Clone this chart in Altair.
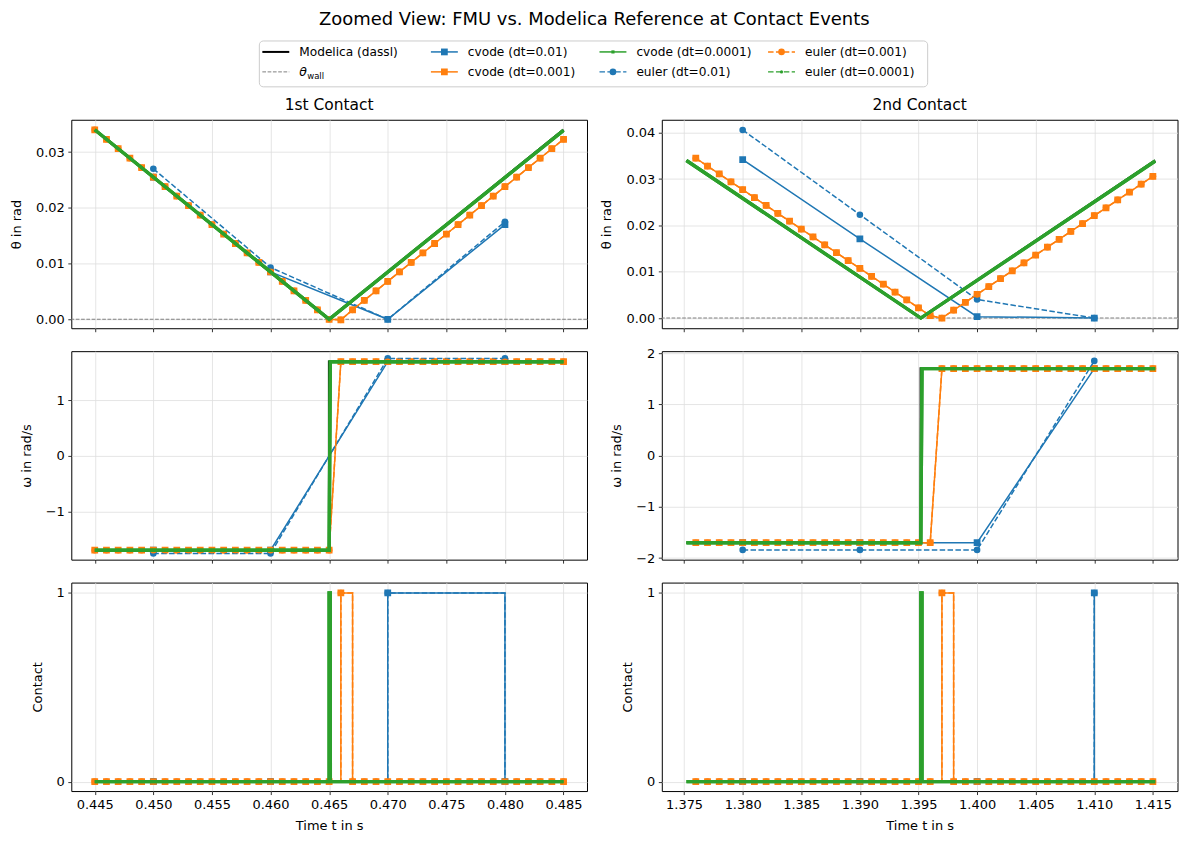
import altair as alt
import pandas as pd

FONT = "DejaVu Sans"

# ------------------------------------------------------------------ data
THETA_WALL = 0.0

# ---- 1st contact window ----
T1_REF = [0.445, 0.465, 0.485]
THETA1_REF = [0.0340, 0.0000, 0.0340]
T1_REF_W = [0.445, 0.465, 0.465, 0.485]
OMEGA1_REF = [-1.70, -1.70, 1.70, 1.70]

T1_FINE = [0.445, 0.465, 0.485]
THETA1_FINE = [0.0340, 0.0000, 0.0339]
T1_FINE_W = [0.445, 0.4650, 0.4651, 0.485]
OMEGA1_FINE = [-1.70, -1.70, 1.70, 1.70]
T1_FINE_C = [0.445, 0.4650, 0.4651, 0.485]
CONTACT1_FINE = [0, 1, 0, 0]

T1_COARSE = [0.45, 0.46, 0.47, 0.48]
THETA1_CV_COARSE = [0.0255, 0.0085, 0.0000, 0.0170]
OMEGA1_CV_COARSE = [-1.70, -1.70, 1.70, 1.70]
CONTACT1_CV_COARSE = [0, 0, 1, 0]
THETA1_EU_COARSE = [0.0270, 0.0093, 0.0000, 0.0175]
OMEGA1_EU_COARSE = [-1.76, -1.76, 1.76, 1.76]
CONTACT1_EU_COARSE = [0, 0, 1, 0]

T1_MED = [0.445, 0.446, 0.447, 0.448, 0.449, 0.450, 0.451, 0.452, 0.453, 0.454,
          0.455, 0.456, 0.457, 0.458, 0.459, 0.460, 0.461, 0.462, 0.463, 0.464,
          0.465, 0.466, 0.467, 0.468, 0.469, 0.470, 0.471, 0.472, 0.473, 0.474,
          0.475, 0.476, 0.477, 0.478, 0.479, 0.480, 0.481, 0.482, 0.483, 0.484,
          0.485]
THETA1_MED = [0.0340, 0.0323, 0.0306, 0.0289, 0.0272, 0.0255, 0.0238, 0.0221, 0.0204, 0.0187,
              0.0170, 0.0153, 0.0136, 0.0119, 0.0102, 0.0085, 0.0068, 0.0051, 0.0034, 0.0017,
              0.0000, -0.0001, 0.0017, 0.0034, 0.0051, 0.0068, 0.0085, 0.0102, 0.0119, 0.0136,
              0.0153, 0.0170, 0.0187, 0.0204, 0.0221, 0.0238, 0.0255, 0.0272, 0.0289, 0.0306,
              0.0323]
OMEGA1_MED = [-1.70, -1.70, -1.70, -1.70, -1.70, -1.70, -1.70, -1.70, -1.70, -1.70,
              -1.70, -1.70, -1.70, -1.70, -1.70, -1.70, -1.70, -1.70, -1.70, -1.70,
              -1.70, 1.70, 1.70, 1.70, 1.70, 1.70, 1.70, 1.70, 1.70, 1.70,
              1.70, 1.70, 1.70, 1.70, 1.70, 1.70, 1.70, 1.70, 1.70, 1.70,
              1.70]
CONTACT1_MED = [0, 0, 0, 0, 0, 0, 0, 0, 0, 0,
                0, 0, 0, 0, 0, 0, 0, 0, 0, 0,
                0, 1, 0, 0, 0, 0, 0, 0, 0, 0,
                0, 0, 0, 0, 0, 0, 0, 0, 0, 0,
                0]

# ---- 2nd contact window ----
T2_REF = [1.3752, 1.3952, 1.4152]
THETA2_REF = [0.0340, 0.0000, 0.0340]
T2_REF_W = [1.3752, 1.3952, 1.3952, 1.4152]
OMEGA2_REF = [-1.70, -1.70, 1.70, 1.70]

T2_FINE = [1.3752, 1.3952, 1.4152]
THETA2_FINE = [0.0340, 0.0000, 0.0339]
T2_FINE_W = [1.3752, 1.3952, 1.3953, 1.4152]
OMEGA2_FINE = [-1.70, -1.70, 1.70, 1.70]
T2_FINE_C = [1.3752, 1.3952, 1.3953, 1.4152]
CONTACT2_FINE = [0, 1, 0, 0]

T2_COARSE = [1.38, 1.39, 1.40, 1.41]
THETA2_CV_COARSE = [0.0342, 0.0171, 0.0003, 0.0000]
OMEGA2_CV_COARSE = [-1.70, -1.70, -1.70, 1.70]
CONTACT2_CV_COARSE = [0, 0, 0, 1]
THETA2_EU_COARSE = [0.0406, 0.0223, 0.0040, 0.0000]
OMEGA2_EU_COARSE = [-1.84, -1.84, -1.84, 1.85]
CONTACT2_EU_COARSE = [0, 0, 0, 1]

T2_MED = [1.376, 1.377, 1.378, 1.379, 1.380, 1.381, 1.382, 1.383, 1.384, 1.385,
          1.386, 1.387, 1.388, 1.389, 1.390, 1.391, 1.392, 1.393, 1.394, 1.395,
          1.396, 1.397, 1.398, 1.399, 1.400, 1.401, 1.402, 1.403, 1.404, 1.405,
          1.406, 1.407, 1.408, 1.409, 1.410, 1.411, 1.412, 1.413, 1.414, 1.415]
THETA2_MED = [0.0345, 0.0328, 0.0311, 0.0294, 0.0277, 0.0260, 0.0243, 0.0226, 0.0209, 0.0192,
              0.0175, 0.0158, 0.0141, 0.0124, 0.0107, 0.0090, 0.0073, 0.0056, 0.0039, 0.0022,
              0.0005, 0.0000, 0.0017, 0.0034, 0.0051, 0.0068, 0.0085, 0.0102, 0.0119, 0.0136,
              0.0153, 0.0170, 0.0187, 0.0204, 0.0221, 0.0238, 0.0255, 0.0272, 0.0289, 0.0306]
OMEGA2_MED = [-1.70, -1.70, -1.70, -1.70, -1.70, -1.70, -1.70, -1.70, -1.70, -1.70,
              -1.70, -1.70, -1.70, -1.70, -1.70, -1.70, -1.70, -1.70, -1.70, -1.70,
              -1.70, 1.70, 1.70, 1.70, 1.70, 1.70, 1.70, 1.70, 1.70, 1.70,
              1.70, 1.70, 1.70, 1.70, 1.70, 1.70, 1.70, 1.70, 1.70, 1.70]
CONTACT2_MED = [0, 0, 0, 0, 0, 0, 0, 0, 0, 0,
                0, 0, 0, 0, 0, 0, 0, 0, 0, 0,
                0, 1, 0, 0, 0, 0, 0, 0, 0, 0,
                0, 0, 0, 0, 0, 0, 0, 0, 0, 0]

# axis settings
X_TICKS = {1: [0.445, 0.450, 0.455, 0.460, 0.465, 0.470, 0.475, 0.480, 0.485],
           2: [1.375, 1.380, 1.385, 1.390, 1.395, 1.400, 1.405, 1.410, 1.415]}
X_DOMAIN = {1: [0.443, 0.487], 2: [1.3731, 1.4171]}
Y_TICKS = {(1, "theta"): [0.0, 0.01, 0.02, 0.03],
           (2, "theta"): [0.0, 0.01, 0.02, 0.03, 0.04],
           (1, "omega"): [-1, 0, 1],
           (2, "omega"): [-2, -1, 0, 1, 2],
           (1, "contact"): [0, 1],
           (2, "contact"): [0, 1]}
Y_DOMAIN = {(1, "theta"): [-0.0016, 0.0358],
            (2, "theta"): [-0.0022, 0.0428],
            (1, "omega"): [-1.87, 1.89],
            (2, "omega"): [-2.03, 2.04],
            (1, "contact"): [-0.05, 1.055],
            (2, "contact"): [-0.05, 1.055]}
Y_TITLE = {"theta": "θ in rad", "omega": "ω in rad/s", "contact": "Contact"}
Y_FMT = {"theta": ".2f", "omega": "d", "contact": "d"}
PANEL_TITLE = {1: "1st Contact", 2: "2nd Contact"}

DATA = {
    (1, "theta", "ref"): (T1_REF, THETA1_REF),
    (1, "omega", "ref"): (T1_REF_W, OMEGA1_REF),
    (1, "theta", "cv01"): (T1_COARSE, THETA1_CV_COARSE),
    (1, "omega", "cv01"): (T1_COARSE, OMEGA1_CV_COARSE),
    (1, "contact", "cv01"): (T1_COARSE, CONTACT1_CV_COARSE),
    (1, "theta", "eu01"): (T1_COARSE, THETA1_EU_COARSE),
    (1, "omega", "eu01"): (T1_COARSE, OMEGA1_EU_COARSE),
    (1, "contact", "eu01"): (T1_COARSE, CONTACT1_EU_COARSE),
    (1, "theta", "cv001"): (T1_MED, THETA1_MED),
    (1, "omega", "cv001"): (T1_MED, OMEGA1_MED),
    (1, "contact", "cv001"): (T1_MED, CONTACT1_MED),
    (1, "theta", "eu001"): (T1_MED, THETA1_MED),
    (1, "omega", "eu001"): (T1_MED, OMEGA1_MED),
    (1, "contact", "eu001"): (T1_MED, CONTACT1_MED),
    (1, "theta", "cv0001"): (T1_FINE, THETA1_FINE),
    (1, "omega", "cv0001"): (T1_FINE_W, OMEGA1_FINE),
    (1, "contact", "cv0001"): (T1_FINE_C, CONTACT1_FINE),
    (1, "theta", "eu0001"): (T1_FINE, THETA1_FINE),
    (1, "omega", "eu0001"): (T1_FINE_W, OMEGA1_FINE),
    (1, "contact", "eu0001"): (T1_FINE_C, CONTACT1_FINE),
    (2, "theta", "ref"): (T2_REF, THETA2_REF),
    (2, "omega", "ref"): (T2_REF_W, OMEGA2_REF),
    (2, "theta", "cv01"): (T2_COARSE, THETA2_CV_COARSE),
    (2, "omega", "cv01"): (T2_COARSE, OMEGA2_CV_COARSE),
    (2, "contact", "cv01"): (T2_COARSE, CONTACT2_CV_COARSE),
    (2, "theta", "eu01"): (T2_COARSE, THETA2_EU_COARSE),
    (2, "omega", "eu01"): (T2_COARSE, OMEGA2_EU_COARSE),
    (2, "contact", "eu01"): (T2_COARSE, CONTACT2_EU_COARSE),
    (2, "theta", "cv001"): (T2_MED, THETA2_MED),
    (2, "omega", "cv001"): (T2_MED, OMEGA2_MED),
    (2, "contact", "cv001"): (T2_MED, CONTACT2_MED),
    (2, "theta", "eu001"): (T2_MED, THETA2_MED),
    (2, "omega", "eu001"): (T2_MED, OMEGA2_MED),
    (2, "contact", "eu001"): (T2_MED, CONTACT2_MED),
    (2, "theta", "cv0001"): (T2_FINE, THETA2_FINE),
    (2, "omega", "cv0001"): (T2_FINE_W, OMEGA2_FINE),
    (2, "contact", "cv0001"): (T2_FINE_C, CONTACT2_FINE),
    (2, "theta", "eu0001"): (T2_FINE, THETA2_FINE),
    (2, "omega", "eu0001"): (T2_FINE_W, OMEGA2_FINE),
    (2, "contact", "eu0001"): (T2_FINE_C, CONTACT2_FINE),
}

# ------------------------------------------------------------------ styles
BLUE, ORANGE, GREEN = "#1f77b4", "#ff7f0e", "#2ca02c"
EU_DASH = [5.5, 2.4]
STYLE = {
    "ref": dict(label="Modelica (dassl)", color="black", lw=2.5, dash=None, marker=None, msize=0, leg_lw=2.0),
    "wall": dict(label="θ", sub="wall", color="#808080", lw=1.1, dash=[3.7, 1.6], marker=None, msize=0, leg_lw=1.0),
    "cv01": dict(label="cvode (dt=0.01)", color=BLUE, lw=1.5, dash=None, marker="square", msize=46, leg_lw=1.5),
    "cv001": dict(label="cvode (dt=0.001)", color=ORANGE, lw=1.5, dash=None, marker="square", msize=46, leg_lw=1.5),
    "cv0001": dict(label="cvode (dt=0.0001)", color=GREEN, lw=3.4, dash=None, marker=None, msize=10, leg_lw=1.5, leg_marker="square"),
    "eu01": dict(label="euler (dt=0.01)", color=BLUE, lw=1.5, dash=EU_DASH, marker="circle", msize=44, leg_lw=1.5),
    "eu001": dict(label="euler (dt=0.001)", color=ORANGE, lw=1.5, dash=EU_DASH, marker="circle", msize=44, leg_lw=1.5),
    "eu0001": dict(label="euler (dt=0.0001)", color=GREEN, lw=3.4, dash=None, marker=None, msize=10, leg_lw=1.5, leg_marker="circle", leg_dash=EU_DASH),
}
DRAW_ORDER = ["ref", "cv01", "cv001", "eu01", "eu001", "cv0001", "eu0001"]
LEGEND_ORDER = ["ref", "wall", "cv01", "cv001", "cv0001", "eu01", "eu001", "eu0001"]


def make_panel(win, qty):
    bottom = qty == "contact"
    x_axis = alt.Axis(values=X_TICKS[win], format=".3f", labels=bottom,
                      title="Time t in s" if bottom else None, labelFlush=False,
                      labelOverlap=False, titlePadding=9)
    y_axis = alt.Axis(values=Y_TICKS[(win, qty)], format=Y_FMT[qty], title=Y_TITLE[qty],
                      labelFlush=False, labelOverlap=False, titlePadding=12)
    X = alt.X("t:Q", scale=alt.Scale(domain=X_DOMAIN[win], nice=False, zero=False), axis=x_axis)
    Y = alt.Y("v:Q", scale=alt.Scale(domain=Y_DOMAIN[(win, qty)], nice=False, zero=False), axis=y_axis)

    layers = []
    if qty == "theta":
        wall = STYLE["wall"]
        layers.append(alt.Chart(pd.DataFrame({"v": [THETA_WALL]})).mark_rule(
            color=wall["color"], strokeDash=wall["dash"], strokeWidth=wall["lw"]).encode(y=Y))
    interp = "step-after" if qty == "contact" else "linear"
    for key in DRAW_ORDER:
        if (win, qty, key) not in DATA:
            continue
        t, v = DATA[(win, qty, key)]
        st = STYLE[key]
        df = pd.DataFrame({"t": t, "v": v, "i": list(range(len(t)))})
        line_kw = dict(color=st["color"], strokeWidth=st["lw"], interpolate=interp, clip=True)
        if st["dash"]:
            line_kw["strokeDash"] = st["dash"]
        layers.append(alt.Chart(df).mark_line(**line_kw).encode(x=X, y=Y, order="i:Q"))
        if st["marker"]:
            layers.append(alt.Chart(df).mark_point(
                filled=True, shape=st["marker"], size=st["msize"], color=st["color"],
                opacity=1, strokeWidth=0, clip=True).encode(x=X, y=Y))
    props = dict(width=517, height=209)
    if qty == "theta":
        props["title"] = alt.TitleParams(PANEL_TITLE[win], fontSize=15.5, fontWeight="normal",
                                         offset=6, font=FONT, color="black")
    return alt.layer(*layers).properties(**props)


panels = []
for qty in ["theta", "omega", "contact"]:
    for win in [1, 2]:
        panels.append(make_panel(win, qty))

grid = alt.concat(*panels, columns=2, spacing={"row": 23, "column": 75}, bounds="flush")

# ------------------------------------------------------------------ legend
leg_rows = []
for idx, key in enumerate(LEGEND_ORDER):
    st = STYLE[key]
    dash = st.get("leg_dash", st["dash"])
    if dash is None:
        dash_kind = "solid"
    elif key == "wall":
        dash_kind = "wall"
    else:
        dash_kind = "euler"
    marker = st.get("leg_marker", st["marker"]) or "none"
    leg_rows.append(dict(key=key, label=st["label"], sub=st.get("sub", ""), col=idx // 2, row=idx % 2,
                         color=st["color"], lw=st["leg_lw"], dash=dash_kind, marker=marker,
                         msize=st["msize"]))
leg_df = pd.DataFrame(leg_rows)

LEG_BOX_W, LEG_BOX_H = 670, 46
LX = alt.X("col:Q", scale=alt.Scale(domain=[0, 4], range=[3, 679]), axis=None)
LY = alt.Y("row:Q", scale=alt.Scale(domain=[0, 1], range=[11, 31]), axis=None)
lbase = alt.Chart(leg_df)
leg_layers = [
    alt.Chart(pd.DataFrame({"box": [0]})).mark_rect(
        fill="white", stroke="#cccccc", strokeWidth=1, cornerRadius=4).encode(
        x=alt.value(0), x2=alt.value(LEG_BOX_W), y=alt.value(0), y2=alt.value(LEG_BOX_H))
]
for kind, dash in [("solid", None), ("wall", STYLE["wall"]["dash"]), ("euler", EU_DASH)]:
    kw = dict(x2Offset=27)
    if dash:
        kw["strokeDash"] = dash
    leg_layers.append(lbase.transform_filter(f"datum.dash == '{kind}'").mark_rule(**kw).encode(
        x=LX, x2=alt.X2("col"), y=LY,
        color=alt.Color("color:N", scale=None),
        strokeWidth=alt.StrokeWidth("lw:Q", scale=None)))
leg_layers.append(lbase.transform_filter("datum.marker != 'none'").mark_point(
    filled=True, opacity=1, strokeWidth=0, xOffset=13.5).encode(
    x=LX, y=LY, shape=alt.Shape("marker:N", scale=None),
    size=alt.Size("msize:Q", scale=None), color=alt.Color("color:N", scale=None)))
leg_layers.append(lbase.transform_filter("datum.sub == ''").mark_text(
    align="left", baseline="middle", dx=37, fontSize=12.2, color="black", font=FONT).encode(
    x=LX, y=LY, text="label:N"))
leg_layers.append(lbase.transform_filter("datum.sub != ''").mark_text(
    align="left", baseline="middle", dx=37, fontSize=12.5, fontStyle="italic", color="black", font=FONT).encode(
    x=LX, y=LY, text="label:N"))
leg_layers.append(lbase.transform_filter("datum.sub != ''").mark_text(
    align="left", baseline="middle", dx=45, dy=4, fontSize=8.5, color="black", font=FONT).encode(
    x=LX, y=LY, text="sub:N"))

# the legend view is wider than its box so that the centred view puts the box in the figure centre
legend = alt.layer(*leg_layers).properties(
    width=733, height=LEG_BOX_H,
    view=alt.ViewBackground(stroke="transparent", strokeWidth=0, fill="transparent"))

chart = alt.vconcat(legend, grid, spacing=10, center=True).properties(
    title=alt.TitleParams("Zoomed View: FMU vs. Modelica Reference at Contact Events",
                          fontSize=18, fontWeight="normal", anchor="middle", offset=11,
                          font=FONT, color="black"),
    padding={"left": 10, "top": 10, "right": 10, "bottom": 3},
).configure(font=FONT).configure_axis(
    labelFont=FONT, labelFontSize=13, labelColor="black", titleFont=FONT, titleFontSize=13,
    titleFontWeight="normal", titleColor="black", tickColor="black", tickSize=3.5,
    tickWidth=0.8, domain=False, gridColor="#dedede", gridWidth=0.8, labelPadding=3.5,
).configure_view(stroke="black", strokeWidth=1)

chart.save("out.html", embed_options={"renderer": "svg", "actions": False})
